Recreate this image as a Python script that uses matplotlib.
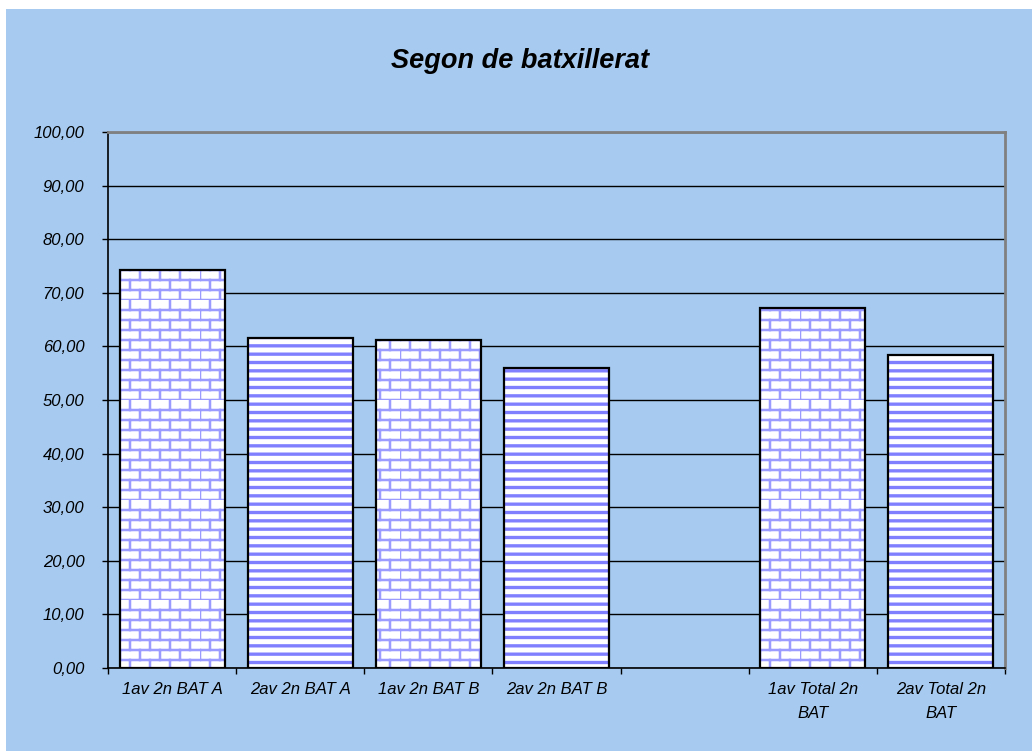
import warnings
import numpy as np
import matplotlib
matplotlib.use('Agg')
import matplotlib.pyplot as plt
from matplotlib import hatch as mhatch
from matplotlib.path import Path
from matplotlib.patches import Rectangle

warnings.filterwarnings('ignore')

categories = ['1av 2n BAT A', '2av 2n BAT A', '1av 2n BAT B', '2av 2n BAT B', '',
              '1av Total 2n\nBAT', '2av Total 2n\nBAT']
values = [74.2, 61.6, 61.2, 56.0, np.nan, 67.2, 58.4]
kinds = ['1av', '2av', '1av', '2av', '', '1av', '2av']
y_ticks = np.arange(0, 101, 10)
title = 'Segon de batxillerat'

BG = '#A6CAF0'


# brick pattern, not one of the stock matplotlib hatches
class BrickHatch(mhatch.HatchPatternBase):
    def __init__(self, hatch, density):
        n = int(hatch.count('b') * 5)
        n = n + (n % 2)
        self.n = n
        self.num_vertices = n * 2 + n * (n // 2) * 2 if n else 0

    def set_vertices_and_codes(self, vertices, codes):
        n = self.n
        k = 0
        for i in range(n):
            y0 = i / n
            y1 = (i + 1) / n
            vertices[k] = (0, y0)
            vertices[k + 1] = (1, y0)
            k += 2
            off = (i % 2) / n
            for j in range(n // 2):
                x = off + j * 2 / n
                vertices[k] = (x, y0)
                vertices[k + 1] = (x, y1)
                k += 2
        codes[0::2] = Path.MOVETO
        codes[1::2] = Path.LINETO


mhatch._hatch_types.append(BrickHatch)

plt.rcParams['font.family'] = ['Liberation Sans', 'DejaVu Sans']

fig = plt.figure(figsize=(10.32, 7.51), dpi=100, facecolor='white')
fig.add_artist(Rectangle((6 / 1032, 0), 1, 742 / 751, transform=fig.transFigure,
                         facecolor=BG, edgecolor='none', zorder=-10))

ax = fig.add_axes([108 / 1032, (751 - 668) / 751, (1005 - 108) / 1032, (668 - 132) / 751])
ax.set_facecolor(BG)

x = np.arange(len(categories))
w = 0.82
for xi, v, kind in zip(x, values, kinds):
    if np.isnan(v):
        continue
    if kind == '1av':
        plt.rcParams['hatch.linewidth'] = 1.8
        ax.bar(xi, v, w, color='white', edgecolor='#9A9AFF', linewidth=0, hatch='bb', zorder=2)
    else:
        plt.rcParams['hatch.linewidth'] = 2.4
        ax.bar(xi, v, w, color='white', edgecolor='#8080FF', linewidth=0, hatch='--', zorder=2)
    ax.bar(xi, v, w, fill=False, edgecolor='black', linewidth=1.6, zorder=3)

ax.set_xlim(-0.5, len(categories) - 0.5)
ax.set_ylim(0, 100)
ax.set_yticks(y_ticks)
ax.yaxis.set_major_formatter(plt.FuncFormatter(lambda v, p: ('%.2f' % v).replace('.', ',')))
ax.yaxis.grid(True, color='black', linewidth=1.0, zorder=1)
ax.set_axisbelow(True)

ax.set_xticks(np.arange(-0.5, len(categories), 1.0))
ax.set_xticklabels([])
ax.set_xticks(x, minor=True)
ax.set_xticklabels(categories, minor=True, fontsize=12, style='italic', linespacing=1.75)
ax.tick_params(axis='x', which='minor', length=0, pad=10)
ax.tick_params(axis='x', which='major', direction='out', length=4, width=1, color='black')
ax.tick_params(axis='y', direction='out', length=4, width=1, pad=13, labelsize=12)
for lab in ax.get_yticklabels():
    lab.set_style('italic')

ax.spines['left'].set_color('black')
ax.spines['bottom'].set_color('black')
ax.spines['top'].set_color('#808080')
ax.spines['right'].set_color('#808080')
for s in ax.spines.values():
    s.set_linewidth(1.2)
ax.spines['right'].set_linewidth(2)
ax.spines['top'].set_linewidth(2)

fig.text(520 / 1032, 1 - 61 / 751, title, ha='center', va='center',
         fontsize=19.5, fontweight='bold', style='italic')

fig.savefig('out.png', dpi=100, facecolor='white')
